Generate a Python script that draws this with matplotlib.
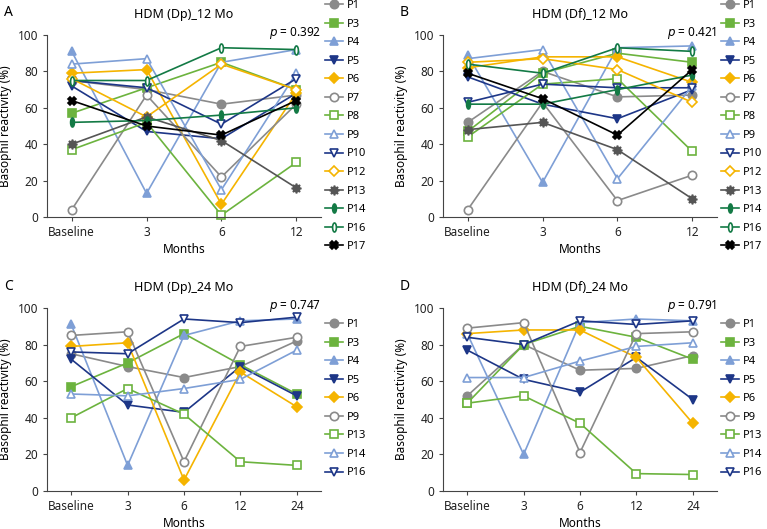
import numpy as np
import matplotlib
matplotlib.use("Agg")
from matplotlib import pyplot as plt
from matplotlib.path import Path

plt.rcParams['font.family'] = ['Noto Sans', 'DejaVu Sans']

# x labels
months_12 = ["Baseline", "3", "6", "12"]
months_24 = ["Baseline", "3", "6", "12", "24"]

# panel A: HDM (Dp) 12 Mo
a_ids = ["P1", "P3", "P4", "P5", "P6", "P7", "P8", "P9", "P10", "P12", "P13", "P14", "P16", "P17"]
a_vals = [
    [75, 70, 62, 67],
    [57, 71, 85, 70],
    [91, 13, 85, 92],
    [72, 47, 43, 68],
    [79, 81, 7, 68],
    [4, 67, 22, 62],
    [37, 52, 1, 30],
    [84, 87, 15, 79],
    [75, 71, 51, 76],
    [76, 55, 84, 70],
    [40, 55, 42, 16],
    [52, 53, 56, 60],
    [75, 75, 93, 92],
    [64, 50, 45, 64],
]
a_p = "0.392"

# panel B: HDM (Df) 12 Mo
b_ids = a_ids
b_vals = [
    [52, 80, 66, 67],
    [47, 79, 90, 85],
    [89, 19, 93, 94],
    [77, 62, 54, 70],
    [82, 88, 88, 74],
    [4, 63, 9, 23],
    [44, 73, 76, 36],
    [87, 92, 21, 72],
    [63, 73, 71, 71],
    [85, 87, 81, 63],
    [48, 52, 37, 10],
    [62, 62, 70, 78],
    [84, 79, 93, 91],
    [79, 65, 45, 81],
]
b_p = "0.421"

# panel C: HDM (Dp) 24 Mo
c_ids = ["P1", "P3", "P4", "P5", "P6", "P9", "P13", "P14", "P16"]
c_vals = [
    [75, 68, 62, 68, 82],
    [57, 70, 86, 69, 53],
    [91, 14, 85, 93, 94],
    [72, 47, 43, 68, 52],
    [79, 81, 6, 65, 46],
    [85, 87, 16, 79, 84],
    [40, 56, 42, 16, 14],
    [53, 52, 56, 61, 77],
    [76, 75, 94, 92, 95],
]
c_p = "0.747"

# panel D: HDM (Df) 24 Mo
d_ids = c_ids
d_vals = [
    [52, 80, 66, 67, 74],
    [48, 80, 90, 84, 72],
    [86, 20, 92, 94, 93],
    [77, 61, 54, 73, 50],
    [86, 88, 88, 73, 37],
    [89, 92, 21, 86, 87],
    [48, 52, 37, 9.5, 9],
    [62, 62, 71, 79, 81],
    [84, 80, 93, 91, 93],
]
d_p = "0.791"

gray = "#8a8a8a"
green = "#6cb33e"
lblue = "#7e9fd6"
dblue = "#1d3687"
yellow = "#f5b400"
dgreen = "#137a45"
dgray = "#555555"

t = np.linspace(0, 2 * np.pi, 40)
bar = Path(np.column_stack([0.42 * np.cos(t), np.sin(t)]))
star = (8, 1, 0)

# (color, marker, filled)
styles_12 = [
    (gray, "o", True), (green, "s", True), (lblue, "^", True), (dblue, "v", True),
    (yellow, "D", True), (gray, "o", False), (green, "s", False), (lblue, "^", False),
    (dblue, "v", False), (yellow, "D", False), (dgray, star, True), (dgreen, bar, True),
    (dgreen, bar, False), ("black", "X", True),
]
styles_24 = [
    (gray, "o", True), (green, "s", True), (lblue, "^", True), (dblue, "v", True),
    (yellow, "D", True), (gray, "o", False), (green, "s", False), (lblue, "^", False),
    (dblue, "v", False),
]

fig = plt.figure(figsize=(7.67, 5.29), dpi=100)
W, H = 767, 529


def panel(rect, letter, title, ids, vals, styles, xt, pval, legy):
    l, r, top, bot = rect
    ax = fig.add_axes([l / W, 1 - bot / H, (r - l) / W, (bot - top) / H])
    x = np.arange(len(xt))
    for pid, v, (c, m, f) in zip(ids, vals, styles):
        ms = 6.5 if m is bar else (5.5 if m in ("D",) else 6)
        if m == star:
            ms = 7
        ax.plot(x, v, color=c, lw=1.2, marker=m, ms=ms,
                mfc=c if f else "white", mec=c, mew=1.2, label=pid, clip_on=False)
    pad = 0.33 if len(xt) == 4 else 0.43
    ax.set_xlim(-pad, len(xt) - 1 + pad)
    ax.set_ylim(0, 100)
    ax.set_xticks(x)
    ax.set_xticklabels(xt)
    ax.set_yticks([0, 20, 40, 60, 80, 100])
    for s in ("top", "right"):
        ax.spines[s].set_visible(False)
    for s in ("left", "bottom"):
        ax.spines[s].set_color("#444444")
        ax.spines[s].set_linewidth(0.8)
    ax.tick_params(labelsize=8.5, length=3, width=0.8, color="#444444", labelcolor="#222222")
    ax.set_ylabel("Basophil reactivity (%)", fontsize=8.5, labelpad=4)
    ax.set_xlabel("Months", fontsize=8.5, labelpad=3)
    ax.set_title(title, fontsize=9, pad=12)
    ax.text(1.0, 1.0 - 1 / (bot - top), r"$\it{p}$ = " + pval, transform=ax.transAxes,
            ha="right", va="baseline", fontsize=8.5)
    fig.text((l - 43) / W, 1 - (top - 22) / H, letter, fontsize=10, fontweight="bold", va="center")
    ax.legend(loc="upper left", bbox_to_anchor=((r + 4) / W, 1 - legy / H), bbox_transform=fig.transFigure,
              frameon=False, fontsize=8, handlelength=1.6, handletextpad=0.4,
              labelspacing=0.68, borderaxespad=0, borderpad=0)
    return ax


panel((47, 321, 35, 217), "A", "HDM (Dp)_12 Mo", a_ids, a_vals, styles_12, months_12, a_p, 0)
panel((443, 717, 35, 217), "B", "HDM (Df)_12 Mo", b_ids, b_vals, styles_12, months_12, b_p, 0)
panel((47, 321, 308, 491), "C", "HDM (Dp)_24 Mo", c_ids, c_vals, styles_24, months_24, c_p, 319)
panel((443, 717, 308, 491), "D", "HDM (Df)_24 Mo", d_ids, d_vals, styles_24, months_24, d_p, 319)

fig.savefig("out.png", dpi=100)
